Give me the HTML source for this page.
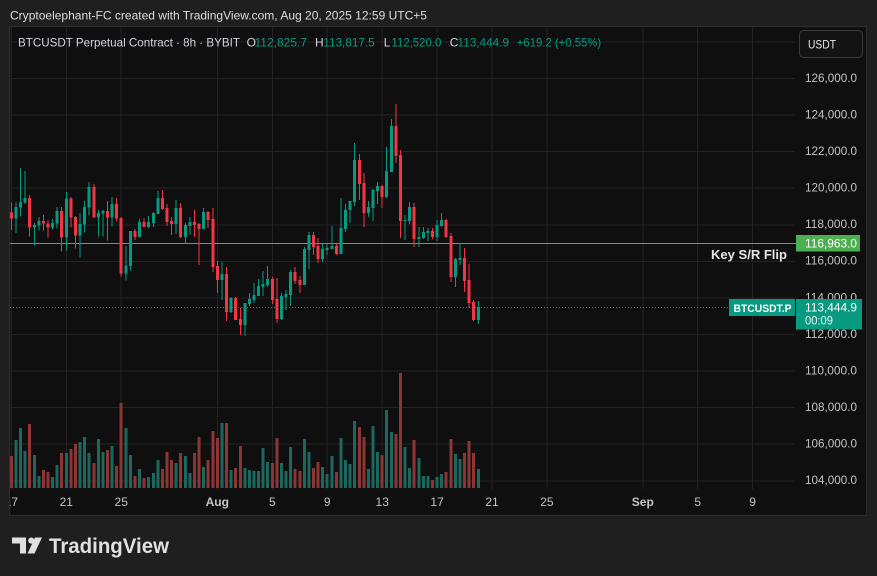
<!DOCTYPE html>
<html><head><meta charset="utf-8">
<style>
html,body{margin:0;padding:0;background:#1f1f1f;}
svg{display:block;}
text{font-family:"Liberation Sans",Arial,sans-serif;}
</style></head>
<body>
<svg width="877" height="576" viewBox="0 0 877 576" xmlns="http://www.w3.org/2000/svg">
<defs>
<clipPath id="pc"><rect x="10" y="27" width="856" height="488"/></clipPath>
</defs>
<rect x="0" y="0" width="877" height="576" fill="#1f1f1f"/>
<rect x="9.5" y="26.5" width="857" height="489" fill="#0f0f0f" stroke="#2c2c2c" stroke-width="1.2"/>

<g clip-path="url(#pc)">
<!-- grid -->
<path shape-rendering="crispEdges" stroke="#232323" stroke-width="1" fill="none" d="M10 42H795M10 78.5H795M10 115H795M10 151.5H795M10 188H795M10 225H795M10 261.5H795M10 298H795M10 334.5H795M10 371H795M10 407.5H795M10 444H795M10 481H795
M11.4 27V489M66.3 27V489M121.2 27V489M217.3 27V489M272.3 27V489M327.2 27V489M382.2 27V489M437.1 27V489M492 27V489M546.9 27V489M642.8 27V489M697.7 27V489M752.6 27V489"/>

<!-- volume red -->
<path shape-rendering="crispEdges" fill="#8c3535" d="M9.9 456h3V488h-3zM28.2 424h3V488h-3zM41.9 470h3V488h-3zM46.5 472h3V488h-3zM60.2 453h3V488h-3zM69.4 449h3V488h-3zM74 444h3V488h-3zM92.3 463h3V488h-3zM106 450h3V488h-3zM115.2 466h3V488h-3zM119.7 403h3V488h-3zM133.5 476h3V488h-3zM142.6 478h3V488h-3zM160.9 469h3V488h-3zM165.5 452h3V488h-3zM170.1 460h3V488h-3zM179.2 453h3V488h-3zM193 453h3V488h-3zM197.6 437h3V488h-3zM206.7 460h3V488h-3zM211.3 431h3V488h-3zM215.9 438h3V488h-3zM225 423h3V488h-3zM234.2 468h3V488h-3zM238.8 446h3V488h-3zM270.8 463h3V488h-3zM275.4 438h3V488h-3zM293.7 469h3V488h-3zM298.3 471h3V488h-3zM312 468h3V488h-3zM316.6 462h3V488h-3zM334.9 472h3V488h-3zM357.8 427h3V488h-3zM362.3 437h3V488h-3zM380.6 455h3V488h-3zM394.4 434h3V488h-3zM398.9 373h3V488h-3zM412.7 440h3V488h-3zM431 480h3V488h-3zM444.7 472h3V488h-3zM449.3 439h3V488h-3zM463 453h3V488h-3zM467.6 441h3V488h-3zM472.2 453h3V488h-3z"/>
<!-- volume green -->
<path shape-rendering="crispEdges" fill="#1d675e" d="M14.5 440h3V488h-3zM19.1 428h3V488h-3zM23.6 451h3V488h-3zM32.8 455h3V488h-3zM37.4 476h3V488h-3zM51.1 477h3V488h-3zM55.7 465h3V488h-3zM64.8 453h3V488h-3zM78.6 442h3V488h-3zM83.1 437h3V488h-3zM87.7 453h3V488h-3zM96.9 439h3V488h-3zM101.4 452h3V488h-3zM110.6 446h3V488h-3zM124.3 428h3V488h-3zM128.9 455h3V488h-3zM138.1 469h3V488h-3zM147.2 477h3V488h-3zM151.8 473h3V488h-3zM156.4 460h3V488h-3zM174.7 463h3V488h-3zM183.8 456h3V488h-3zM188.4 473h3V488h-3zM202.1 467h3V488h-3zM220.4 423h3V488h-3zM229.6 470h3V488h-3zM243.3 468h3V488h-3zM247.9 470h3V488h-3zM252.5 471h3V488h-3zM257.1 471h3V488h-3zM261.6 448h3V488h-3zM266.2 462h3V488h-3zM279.9 463h3V488h-3zM284.5 471h3V488h-3zM289.1 447h3V488h-3zM302.8 439h3V488h-3zM307.4 452h3V488h-3zM321.1 467h3V488h-3zM325.7 474h3V488h-3zM330.3 456h3V488h-3zM339.4 438h3V488h-3zM344 460h3V488h-3zM348.6 464h3V488h-3zM353.2 421h3V488h-3zM366.9 469h3V488h-3zM371.5 426h3V488h-3zM376.1 452h3V488h-3zM385.2 410h3V488h-3zM389.8 432h3V488h-3zM403.5 447h3V488h-3zM408.1 468h3V488h-3zM417.3 458h3V488h-3zM421.8 476h3V488h-3zM426.4 476h3V488h-3zM435.6 477h3V488h-3zM440.1 474h3V488h-3zM453.9 454h3V488h-3zM458.4 459h3V488h-3zM476.8 469h3V488h-3z"/>

<!-- S/R line -->
<line x1="10" y1="243.5" x2="796" y2="243.5" stroke="#4caf50" stroke-width="1"/>
<!-- current price dotted line -->
<line x1="10" y1="307.5" x2="729" y2="307.5" stroke="#089981" stroke-width="1" stroke-dasharray="1 2"/>

<!-- candles red -->
<path shape-rendering="crispEdges" fill="#f23645" d="M9.9 212.7h3V218.7h-3zM10.9 202.7h1V230h-1z
M28.2 198h3V227.7h-3zM29.2 195h1V236.7h-1z
M41.9 221h3V223.7h-3zM42.9 215h1V230.7h-1z
M46.5 223.3h3V227.7h-3zM47.5 220.7h1V237.7h-1z
M60.2 211h3V237.7h-3zM61.2 207h1V251.7h-1z
M69.4 198.3h3V217.7h-3zM70.4 197h1V227.7h-1z
M74 217h3V235.7h-3zM75 216h1V248.7h-1z
M92.3 187h3V217.7h-3zM93.3 184h1V217.7h-1z
M106 211h3V217.7h-3zM107 201h1V240.7h-1z
M115.2 204h3V218.7h-3zM116.2 198h1V221.7h-1z
M119.7 218h3V273.7h-3zM120.7 217h1V276.7h-1z
M133.5 231h3V237h-3zM134.5 229h1V240h-1z
M142.6 222h3V227h-3zM143.6 218h1V227h-1z
M160.9 198h3V209h-3zM161.9 190h1V210h-1z
M165.5 208h3V222h-3zM166.5 204h1V226h-1z
M170.1 221h3V224h-3zM171.1 217h1V235h-1z
M179.2 208h3V237h-3zM180.2 203h1V238h-1z
M193 222h3V225h-3zM194 210h1V237h-1z
M197.6 224h3V229h-3zM198.6 223h1V265h-1z
M206.7 212h3V220h-3zM207.7 211h1V228h-1z
M211.3 219h3V267h-3zM212.3 208h1V272h-1z
M215.9 266h3V280h-3zM216.9 261h1V293h-1z
M225 274h3V312h-3zM226 267h1V321h-1z
M234.2 298h3V320h-3zM235.2 297h1V320h-1z
M238.8 319h3V325h-3zM239.8 308h1V335h-1z
M270.8 279h3V300h-3zM271.8 277h1V304h-1z
M275.4 299h3V319h-3zM276.4 278h1V323h-1z
M293.7 272h3V281h-3zM294.7 267h1V284h-1z
M298.3 280h3V285h-3zM299.3 276h1V293h-1z
M312 235h3V247h-3zM313 232h1V255h-1z
M316.6 246h3V259h-3zM317.6 238h1V263h-1z
M334.9 246h3V254h-3zM335.9 243h1V255h-1z
M357.8 160h3V184h-3zM358.8 154h1V200h-1z
M362.3 183h3V213h-3zM363.3 173h1V227h-1z
M380.6 186h3V197h-3zM381.6 185h1V208h-1z
M394.4 126h3V156h-3zM395.4 104h1V163h-1z
M398.9 155h3V221h-3zM399.9 150h1V238h-1z
M412.7 207h3V239h-3zM413.7 203h1V247h-1z
M431 231h3V237h-3zM432 228h1V239h-1z
M444.7 220h3V237h-3zM445.7 219h1V238h-1z
M449.3 236h3V277h-3zM450.3 233h1V282h-1z
M463 258h3V281h-3zM464 248h1V292h-1z
M467.6 280h3V303h-3zM468.6 264h1V308h-1z
M472.2 302h3V320h-3zM473.2 300h1V321h-1z"/>
<!-- candles green -->
<path shape-rendering="crispEdges" fill="#089981" d="M14.5 207h3V218.7h-3zM15.5 202.7h1V233h-1z
M19.1 202h3V207.7h-3zM20.1 168h1V216.7h-1z
M23.6 198h3V202.7h-3zM24.6 171h1V204h-1z
M32.8 225h3V227.7h-3zM33.8 223h1V245.7h-1z
M37.4 221h3V225.7h-3zM38.4 217h1V230.7h-1z
M51.1 223h3V227.7h-3zM52.1 219h1V229.7h-1z
M55.7 211h3V223.7h-3zM56.7 207h1V228.7h-1z
M64.8 198.3h3V237.7h-3zM65.8 192h1V250.7h-1z
M78.6 224h3V235.7h-3zM79.6 213h1V257.7h-1z
M83.1 207h3V224.7h-3zM84.1 201h1V232.7h-1z
M87.7 187h3V207.7h-3zM88.7 182h1V215.7h-1z
M96.9 213h3V217.7h-3zM97.9 210h1V236.7h-1z
M101.4 211h3V213.7h-3zM102.4 210h1V236.7h-1z
M110.6 204h3V217.7h-3zM111.6 197h1V226.7h-1z
M124.3 265.3h3V273.7h-3zM125.3 246h1V280.7h-1z
M128.9 231h3V266h-3zM129.9 231h1V270.7h-1z
M138.1 222h3V237h-3zM139.1 219h1V237h-1z
M147.2 222h3V227h-3zM148.2 216h1V228h-1z
M151.8 213h3V223h-3zM152.8 212h1V227h-1z
M156.4 198h3V214h-3zM157.4 191h1V214h-1z
M174.7 208h3V224h-3zM175.7 200h1V234h-1z
M183.8 225h3V237h-3zM184.8 223h1V243h-1z
M188.4 222h3V226h-3zM189.4 217h1V235h-1z
M202.1 212h3V229h-3zM203.1 208h1V229h-1z
M220.4 274h3V280h-3zM221.4 262h1V300h-1z
M229.6 298h3V312h-3zM230.6 297h1V313h-1z
M243.3 303h3V325h-3zM244.3 303h1V336h-1z
M247.9 299h3V304h-3zM248.9 293h1V306h-1z
M252.5 295h3V300h-3zM253.5 283h1V303h-1z
M257.1 286h3V296h-3zM258.1 279h1V296h-1z
M261.6 284h3V287h-3zM262.6 271h1V296h-1z
M266.2 279h3V285h-3zM267.2 266h1V287h-1z
M279.9 296h3V319h-3zM280.9 293h1V320h-1z
M284.5 294h3V297h-3zM285.5 290h1V310h-1z
M289.1 272h3V295h-3zM290.1 270h1V306h-1z
M302.8 249h3V285h-3zM303.8 247h1V285h-1z
M307.4 235h3V250h-3zM308.4 232h1V269h-1z
M321.1 249h3V259h-3zM322.1 244h1V262h-1z
M325.7 248h3V250h-3zM326.7 244h1V255h-1z
M330.3 246h3V249h-3zM331.3 226h1V249h-1z
M339.4 228h3V254h-3zM340.4 198h1V254h-1z
M344 210h3V229h-3zM345 204h1V232h-1z
M348.6 201h3V210h-3zM349.6 201h1V223h-1z
M353.2 160h3V202h-3zM354.2 143h1V206h-1z
M366.9 207h3V213h-3zM367.9 201h1V217h-1z
M371.5 190h3V208h-3zM372.5 189h1V221h-1z
M376.1 186h3V191h-3zM377.1 182h1V204h-1z
M385.2 171h3V197h-3zM386.2 147h1V198h-1z
M389.8 126h3V172h-3zM390.8 119h1V172h-1z
M403.5 220h3V221h-3zM404.5 215h1V240h-1z
M408.1 207h3V221h-3zM409.1 202h1V224h-1z
M417.3 237h3V239h-3zM418.3 227h1V247h-1z
M421.8 232h3V238h-3zM422.8 227h1V239h-1z
M426.4 231h3V233h-3zM427.4 228h1V241h-1z
M435.6 225h3V237h-3zM436.6 220h1V241h-1z
M440.1 220h3V226h-3zM441.1 213h1V227h-1z
M453.9 259h3V277h-3zM454.9 258h1V287h-1z
M458.4 258h3V260h-3zM459.4 243h1V265h-1z
M476.8 307h3V320h-3zM477.8 301h1V324h-1z"/>

<!-- x axis labels -->
<g font-size="12" fill="#c3c3c3" text-anchor="middle">
<text x="11.4" y="506">17</text>
<text x="66.3" y="506">21</text>
<text x="121.2" y="506">25</text>
<text x="217.3" y="506" font-weight="bold">Aug</text>
<text x="272.3" y="506">5</text>
<text x="327.2" y="506">9</text>
<text x="382.2" y="506">13</text>
<text x="437.1" y="506">17</text>
<text x="492" y="506">21</text>
<text x="546.9" y="506">25</text>
<text x="642.8" y="506" font-weight="bold">Sep</text>
<text x="697.7" y="506">5</text>
<text x="752.6" y="506">9</text>
</g>
</g>

<!-- price axis labels -->
<g font-size="12" fill="#c3c3c3">
<text x="805" y="81.8" textLength="52" lengthAdjust="spacingAndGlyphs">126,000.0</text>
<text x="805" y="118.3" textLength="52" lengthAdjust="spacingAndGlyphs">124,000.0</text>
<text x="805" y="154.9" textLength="52" lengthAdjust="spacingAndGlyphs">122,000.0</text>
<text x="805" y="191.5" textLength="52" lengthAdjust="spacingAndGlyphs">120,000.0</text>
<text x="805" y="228.1" textLength="52" lengthAdjust="spacingAndGlyphs">118,000.0</text>
<text x="805" y="264.7" textLength="52" lengthAdjust="spacingAndGlyphs">116,000.0</text>
<text x="805" y="301.3" textLength="52" lengthAdjust="spacingAndGlyphs">114,000.0</text>
<text x="805" y="337.9" textLength="52" lengthAdjust="spacingAndGlyphs">112,000.0</text>
<text x="805" y="374.4" textLength="52" lengthAdjust="spacingAndGlyphs">110,000.0</text>
<text x="805" y="411" textLength="52" lengthAdjust="spacingAndGlyphs">108,000.0</text>
<text x="805" y="447.6" textLength="52" lengthAdjust="spacingAndGlyphs">106,000.0</text>
<text x="805" y="484.2" textLength="52" lengthAdjust="spacingAndGlyphs">104,000.0</text>
</g>

<!-- S/R label -->
<rect x="796" y="235" width="64" height="16.5" fill="#4caf50"/>
<text x="805" y="247.5" font-size="12" fill="#ffffff" textLength="52" lengthAdjust="spacingAndGlyphs">116,963.0</text>
<text x="711" y="258.8" font-size="13" font-weight="bold" fill="#e6e6e6" textLength="76" lengthAdjust="spacingAndGlyphs">Key S/R Flip</text>

<!-- current price labels -->
<rect x="729" y="299" width="66" height="17" fill="#089981"/>
<text x="733.5" y="312" font-size="11" font-weight="bold" fill="#ffffff" textLength="58" lengthAdjust="spacingAndGlyphs">BTCUSDT.P</text>
<rect x="796" y="299" width="66" height="30.5" fill="#089981"/>
<text x="805" y="311.7" font-size="12" fill="#ffffff" textLength="52" lengthAdjust="spacingAndGlyphs">113,444.9</text>
<text x="805" y="324.5" font-size="12" fill="#e8f5f2" textLength="28" lengthAdjust="spacingAndGlyphs">00:09</text>

<!-- USDT button -->
<rect x="799.5" y="30.5" width="63" height="27" rx="4" fill="#131313" stroke="#3a3a3a" stroke-width="1"/>
<text x="808" y="48.3" font-size="12" fill="#e6e6e6" textLength="28" lengthAdjust="spacingAndGlyphs">USDT</text>

<!-- title -->
<text x="10" y="19.5" font-size="12" fill="#dedede" textLength="417" lengthAdjust="spacingAndGlyphs">Cryptoelephant-FC created with TradingView.com, Aug 20, 2025 12:59 UTC+5</text>

<!-- legend header -->
<g font-size="12">
<text x="18" y="46.6" fill="#d1d4dc" textLength="222" lengthAdjust="spacingAndGlyphs">BTCUSDT Perpetual Contract · 8h · BYBIT</text>
<text x="246.6" y="46.6" fill="#d1d4dc">O</text>
<text x="254.5" y="46.6" fill="#089981" textLength="52.5" lengthAdjust="spacingAndGlyphs">112,825.7</text>
<text x="315" y="46.6" fill="#d1d4dc">H</text>
<text x="323.3" y="46.6" fill="#089981" textLength="51.4" lengthAdjust="spacingAndGlyphs">113,817.5</text>
<text x="383.7" y="46.6" fill="#d1d4dc">L</text>
<text x="391.5" y="46.6" fill="#089981" textLength="49.8" lengthAdjust="spacingAndGlyphs">112,520.0</text>
<text x="449.7" y="46.6" fill="#d1d4dc">C</text>
<text x="457.5" y="46.6" fill="#089981" textLength="51.5" lengthAdjust="spacingAndGlyphs">113,444.9</text>
<text x="516.8" y="46.6" fill="#089981" textLength="84.4" lengthAdjust="spacingAndGlyphs">+619.2 (+0.55%)</text>
</g>

<!-- TradingView logo -->
<g fill="#e0e0e0">
<rect x="12" y="537.5" width="14" height="6"/>
<rect x="20" y="537.5" width="6" height="16"/>
<circle cx="31.3" cy="540.6" r="3.1"/>
<polygon points="35,537.5 42,537.5 34.5,553.5 27.5,553.5"/>
<text x="49" y="553" font-size="21" font-weight="bold" textLength="120" lengthAdjust="spacingAndGlyphs">TradingView</text>
</g>
</svg>
</body></html>
